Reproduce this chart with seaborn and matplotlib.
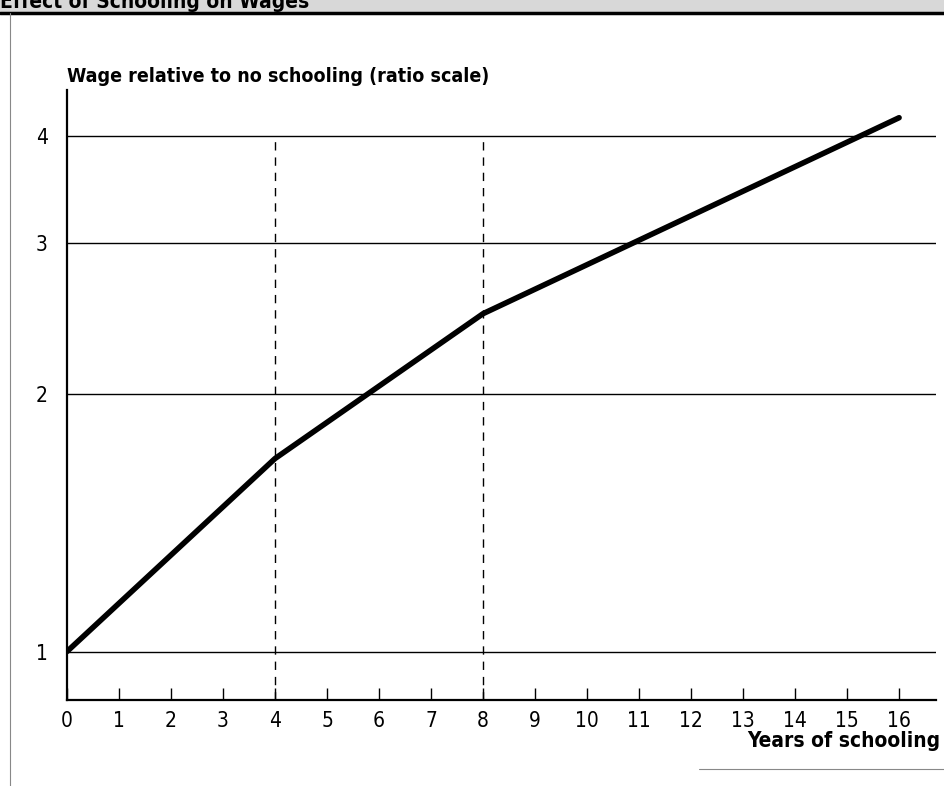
import numpy as np
import pandas as pd
import matplotlib
matplotlib.use("Agg")
import matplotlib.pyplot as plt
import seaborn as sns

# values
years = [0, 4, 8, 16]
wage_ratio = [1.0, 1.68, 2.48, 4.2]
grid_levels = [1, 2, 3, 4]
x_ticks = list(range(0, 17))
dashed_years = [4, 8]

sns.set_theme(style="white")
plt.rcParams['font.family'] = ['DejaVu Sans']
plt.rcParams['font.stretch'] = 'condensed'
plt.rcParams['text.color'] = 'black'
plt.rcParams['xtick.color'] = 'black'
plt.rcParams['ytick.color'] = 'black'

df = pd.DataFrame({'years': years, 'wage': wage_ratio})

fig = plt.figure(figsize=(9.44, 7.86), dpi=100)
ax = fig.add_axes([0.071, 0.109, 0.92, 0.776])

ax.set_yscale('log')
for g in grid_levels:
    ax.axhline(g, color='black', lw=1.0, zorder=1)
for d in dashed_years:
    ax.plot([d, d], [0.877, 4], color='black', lw=1.0, ls=(0, (6, 5)), zorder=1)

sns.lineplot(data=df, x='years', y='wage', color='black', lw=4, ax=ax, zorder=3)

ax.set_xlim(0, 16.7)
ax.set_ylim(0.877, 4.52)
ax.set_xticks(x_ticks)
ax.set_xticklabels([str(t) for t in x_ticks], fontsize=15, stretch='condensed')
ax.set_yticks(grid_levels)
ax.set_yticklabels([str(g) for g in grid_levels], fontsize=15, stretch='condensed')
ax.yaxis.set_minor_locator(matplotlib.ticker.NullLocator())
ax.tick_params(axis='x', direction='in', length=9, width=1, color='black', pad=8, bottom=True)
ax.tick_params(axis='y', length=0, pad=14)
ax.set_xlabel('')
ax.set_ylabel('')

for s in ['top', 'right']:
    ax.spines[s].set_visible(False)
for s in ['left', 'bottom']:
    ax.spines[s].set_color('black')
    ax.spines[s].set_linewidth(1.6)

fig.text(0.071, 0.903, 'Wage relative to no schooling (ratio scale)', fontsize=14,
         fontweight='bold', stretch='condensed', ha='left', va='center')
fig.text(0.996, 0.057, 'Years of schooling', fontsize=15, fontweight='bold',
         stretch='condensed', ha='right', va='center')

# page frame bits from the scan
fig.add_artist(plt.Rectangle((0, 0.985), 1, 0.015, transform=fig.transFigure,
                             color='#d8d8d8', lw=0))
fig.add_artist(plt.Line2D([0, 1], [0.983, 0.983], transform=fig.transFigure,
                          color='black', lw=2.5))
fig.add_artist(plt.Line2D([0.011, 0.011], [0.0, 0.983], transform=fig.transFigure,
                          color='#888888', lw=0.8))
fig.add_artist(plt.Line2D([0.74, 1], [0.021, 0.021], transform=fig.transFigure,
                          color='#888888', lw=0.8))
fig.text(0.0, 0.998, 'Effect of Schooling on Wages', fontsize=15, fontweight='bold',
         stretch='condensed', ha='left', va='center')

fig.savefig('out.png', dpi=100)
